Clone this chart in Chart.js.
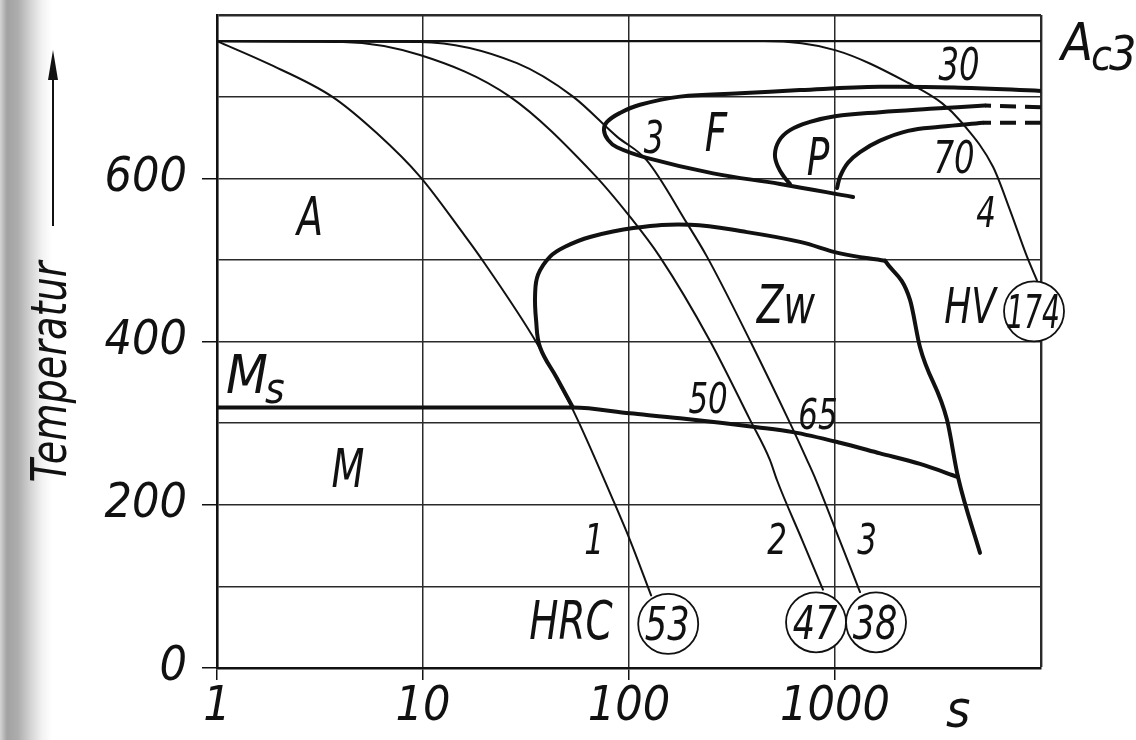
<!DOCTYPE html>
<html>
<head>
<meta charset="utf-8">
<title>ZTU-Schaubild</title>
<script src="https://cdn.jsdelivr.net/npm/chart.js@4.4.1/dist/chart.umd.min.js"></script>
<style>
  html, body { margin: 0; padding: 0; }
  body {
    width: 1136px; height: 740px; overflow: hidden;
    background: linear-gradient(to right, #d4d4d4 0px, #a2a2a2 7px, #adadad 18px, #d2d2d2 30px, #f2f2f2 42px, #ffffff 52px);
  }
</style>
</head>
<body>
<canvas id="ztu" width="1136" height="740"></canvas>
<script>
// Zeit t in s (log), Temperatur T in °C, Punkte als [t, T]
var xTicks = [1, 10, 100, 1000, 10000];
var xTickLabels = ['1', '10', '100', '1000', ''];
var yTicks = [0, 100, 200, 300, 400, 500, 600, 700, 800];
var yTickLabels = ['0', '', '200', '', '400', '', '600', '', ''];

var ac3 = [[1, 768], [10000, 768]];
var curve1 = [[1, 768], [1.75, 741], [3.62, 700], [5.98, 655], [9.67, 602], [15.6, 533], [18.9, 504],
              [35.7, 398], [53.5, 316], [83.6, 206], [101, 157], [128, 89]];
var curve2 = [[1, 768], [4.09, 767], [9.67, 751], [26.4, 700], [66.9, 606], [101, 553], [141, 504],
              [247, 401], [387, 304], [483, 255], [523, 230], [692, 157], [874, 96]];
var curve3 = [[1, 768], [9.67, 767], [28.6, 741], [53.5, 700], [87.4, 651], [122, 622], [191, 545],
              [239, 504], [387, 401], [605, 300], [731, 255], [809, 230], [1052, 157], [1323, 93]];
var curve4 = [[1, 768], [452, 768], [1000, 757], [2261, 717], [3306, 692], [4135, 668], [5848, 614],
              [7071, 561], [8551, 504], [9557, 475]];

var ferriteStart = [[10000, 707], [4045, 711], [1654, 712], [676, 708], [346, 704], [177, 700], [113, 690],
                    [90.4, 680], [78.2, 669], [75.6, 659], [79.1, 647], [87.4, 638], [122, 625], [256, 606],
                    [541, 593], [1223, 577]];
var pearliteStart = [[5347, 689], [2892, 685], [1654, 681], [1000, 676], [756, 669], [605, 659], [535, 646],
                     [511, 629], [529, 614], [565, 602], [605, 593]];
var pearliteStartOpen = [[10000, 687], [5347, 689]];
var pearliteEnd = [[5229, 668], [3233, 663], [2261, 658], [1654, 646], [1323, 632], [1156, 619], [1058, 602],
                   [1023, 588]];
var pearliteEndOpen = [[10000, 668], [5229, 668]];
var bainiteStart = [[53.5, 319], [44.7, 355], [37.0, 393], [35.4, 426], [35.0, 457], [36.2, 482], [41.4, 504],
                    [48.9, 516], [64.7, 528], [105, 539], [198, 543], [374, 534], [676, 522], [1058, 508],
                    [1749, 499]];
var bainiteEnd = [[1749, 499], [2313, 451], [2586, 393], [3497, 304], [3955, 234], [5058, 141]];
var msLine = [[1, 319], [53.5, 319], [101, 312], [177, 306], [418, 295], [625, 289], [1058, 276], [1654, 263],
              [2586, 250], [3955, 234]];

var hardness = ['53', '47', '38', '174'];
var hardnessAt = [[155, 54], [809, 56], [1582, 56], [9250, 437]];

// Beschriftungen im Diagramm
var notes = [
  { text: 'A', t: 2.83, T: 554, size: 53 },
  { text: 'M', t: 4.32, T: 245, size: 53 },
  { text: 'F', t: 264, T: 657, size: 54 },
  { text: '3', t: 132, T: 650, size: 44 },
  { text: 'P', t: 827, T: 627, size: 52 },
  { text: 'Zw', t: 578, T: 446, size: 54 },
  { text: '30', t: 4000, T: 740, size: 45 },
  { text: '70', t: 3782, T: 626, size: 45 },
  { text: '4', t: 5408, T: 559, size: 43 },
  { text: 'HV', t: 4522, T: 445, size: 50 },
  { text: '50', t: 242, T: 331, size: 43 },
  { text: '65', t: 827, T: 312, size: 43 },
  { text: '1', t: 67.6, T: 159, size: 43 },
  { text: '2', t: 523, T: 159, size: 43 },
  { text: '3', t: 1430, T: 159, size: 43 },
  { text: 'HRC', t: 52.3, T: 59, size: 54 }
];

var FONT = '"DejaVu Sans Condensed", "DejaVu Sans", sans-serif';
var INK = '#111111';

function pts(a) {
  return a.map(function (p) { return { x: p[0], y: p[1] }; });
}

function line(data, width, opts) {
  var ds = {
    data: pts(data), showLine: true, pointRadius: 0, borderColor: INK,
    borderWidth: width, fill: false, tension: 0, borderCapStyle: 'round', borderJoinStyle: 'round'
  };
  for (var k in (opts || {})) ds[k] = opts[k];
  return ds;
}

function drawText(ctx, text, x, y, size, squeeze) {
  ctx.save();
  ctx.font = 'italic ' + size + 'px ' + FONT;
  ctx.fillStyle = INK;
  ctx.textAlign = 'center';
  ctx.textBaseline = 'alphabetic';
  ctx.translate(x, y + 0.36 * size);
  ctx.scale(squeeze || 1, 1);
  ctx.fillText(text, 0, 0);
  ctx.restore();
}

var notesPlugin = {
  id: 'notes',
  afterDatasetsDraw: function (chart) {
    var ctx = chart.ctx, xs = chart.scales.x, ys = chart.scales.y, area = chart.chartArea;
    notes.forEach(function (n) {
      drawText(ctx, n.text, xs.getPixelForValue(n.t), ys.getPixelForValue(n.T), n.size, 0.8);
    });
    // Härtewerte im Kreis
    hardness.forEach(function (h, i) {
      var cx = xs.getPixelForValue(hardnessAt[i][0]), cy = ys.getPixelForValue(hardnessAt[i][1]);
      ctx.save();
      ctx.beginPath();
      ctx.arc(cx, cy, 30, 0, Math.PI * 2);
      ctx.fillStyle = '#ffffff';
      ctx.fill();
      ctx.lineWidth = 1.8;
      ctx.strokeStyle = INK;
      ctx.stroke();
      ctx.restore();
      drawText(ctx, h, cx - 1, cy, 46, h.length > 2 ? 0.68 : 0.85);
    });
    // Ac3 und Ms
    var yA = ys.getPixelForValue(768);
    ctx.save();
    ctx.fillStyle = INK;
    ctx.textAlign = 'left';
    ctx.textBaseline = 'alphabetic';
    ctx.font = 'italic 52px ' + FONT;
    ctx.fillText('A', area.right + 20, yA + 19);
    ctx.font = 'italic 42px ' + FONT;
    ctx.fillText('c', area.right + 50, yA + 29);
    ctx.font = 'italic 48px ' + FONT;
    ctx.fillText('3', area.right + 68, yA + 29);
    var yM = ys.getPixelForValue(319);
    ctx.font = 'italic 54px ' + FONT;
    ctx.fillText('M', area.left + 9, yM - 15);
    ctx.font = 'italic 42px ' + FONT;
    ctx.fillText('s', area.left + 48, yM - 5);
    // Einheit der Zeitachse
    ctx.font = 'italic 52px ' + FONT;
    ctx.fillText('s', 946, 727);
    // Achsentitel mit Pfeil
    ctx.save();
    ctx.translate(66, 372);
    ctx.rotate(-Math.PI / 2);
    ctx.scale(0.85, 1);
    ctx.textAlign = 'center';
    ctx.font = 'italic 50px ' + FONT;
    ctx.fillText('Temperatur', 0, 0);
    ctx.restore();
    ctx.strokeStyle = INK;
    ctx.lineWidth = 2;
    ctx.beginPath();
    ctx.moveTo(53, 226);
    ctx.lineTo(53, 70);
    ctx.stroke();
    ctx.beginPath();
    ctx.moveTo(53, 50);
    ctx.lineTo(48, 80);
    ctx.lineTo(58, 80);
    ctx.closePath();
    ctx.fill();
    ctx.restore();
  }
};

var thin = 2, thick = 4;
var datasets = [
  line(ac3, 2.2),
  line(curve1, thin, { cubicInterpolationMode: 'monotone' }),
  line(curve2, thin, { cubicInterpolationMode: 'monotone' }),
  line(curve3, thin, { cubicInterpolationMode: 'monotone' }),
  line(curve4, thin, { cubicInterpolationMode: 'monotone' }),
  line(ferriteStart, thick, { tension: 0.4 }),
  line(pearliteStart, thick, { tension: 0.4 }),
  line(pearliteStartOpen, thick, { borderDash: [16, 9], borderCapStyle: 'butt' }),
  line(pearliteEnd, thick, { tension: 0.4 }),
  line(pearliteEndOpen, thick, { borderDash: [16, 9], borderCapStyle: 'butt' }),
  line(bainiteStart, thick, { tension: 0.4 }),
  line(bainiteEnd, thick, { cubicInterpolationMode: 'monotone' }),
  line(msLine, thick, { cubicInterpolationMode: 'monotone' })
];

var tickFont = { family: FONT, size: 48, style: 'italic', lineHeight: 1 };

new Chart(document.getElementById('ztu').getContext('2d'), {
  type: 'scatter',
  data: { datasets: datasets },
  options: {
    responsive: false,
    animation: false,
    devicePixelRatio: 1,
    layout: { padding: { top: 15, right: 95, left: 0, bottom: 0 } },
    plugins: { legend: { display: false }, tooltip: { enabled: false } },
    scales: {
      x: {
        type: 'logarithmic',
        min: 1, max: 10000,
        afterBuildTicks: function (s) { s.ticks = xTicks.map(function (v) { return { value: v }; }); },
        afterFit: function (s) {
          s.height = 72;
          s.paddingLeft = 0; s.paddingRight = 0;
        },
        ticks: {
          autoSkip: false, maxRotation: 0, padding: 4, color: INK, font: tickFont,
          callback: function (v, i) { return xTickLabels[i]; }
        },
        grid: {
          color: '#2a2a2a', tickLength: 12,
          lineWidth: function (c) { return c.tick && c.tick.value === 10000 ? 2.4 : 1.5; },
          tickColor: function (c) { return c.tick && c.tick.value < 10000 ? INK : 'rgba(0,0,0,0)'; }
        },
        border: { color: INK, width: 2.6 }
      },
      y: {
        min: 0, max: 800,
        afterBuildTicks: function (s) { s.ticks = yTicks.map(function (v) { return { value: v }; }); },
        afterFit: function (s) {
          s.width = 217;
          s.paddingTop = 0; s.paddingBottom = 0;
        },
        ticks: {
          padding: 15, color: INK, font: tickFont,
          callback: function (v, i) { return yTickLabels[i]; }
        },
        grid: {
          color: '#2a2a2a', tickLength: 15,
          lineWidth: function (c) { return c.tick && c.tick.value === 800 ? 2.4 : 1.5; },
          tickColor: function (c) { return c.tick && yTickLabels[c.index] !== '' ? INK : 'rgba(0,0,0,0)'; }
        },
        border: { color: INK, width: 2.6 }
      }
    }
  },
  plugins: [notesPlugin]
});
</script>
</body>
</html>
